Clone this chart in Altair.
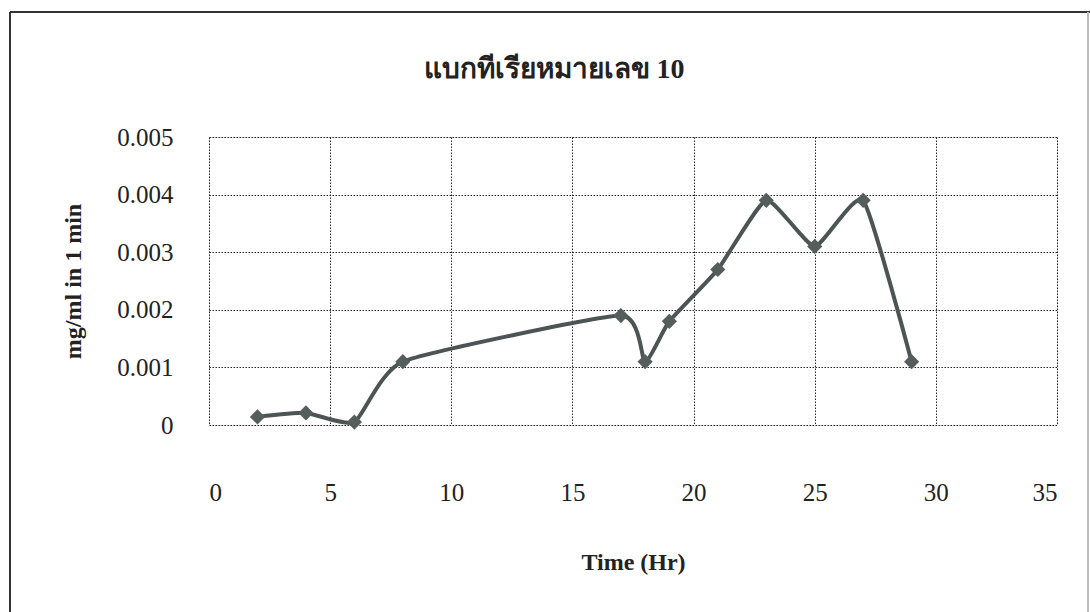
import altair as alt
import pandas as pd

# Sampling times (hours) and measured rate (mg/ml per minute)
hours = [2, 4, 6, 8, 17, 18, 19, 21, 23, 25, 27, 29]
rate = [0.00014, 0.00021, 0.00005, 0.0011, 0.0019, 0.0011,
        0.0018, 0.0027, 0.0039, 0.0031, 0.0039, 0.0011]

x_ticks = [0, 5, 10, 15, 20, 25, 30, 35]
y_ticks = [0, 0.001, 0.002, 0.003, 0.004, 0.005]

title_text = "แบกทีเรียหมายเลข 10"
x_title = "Time (Hr)"
y_title = "mg/ml in 1 min"

df = pd.DataFrame({"hours": hours, "rate": rate})

FONT = "Liberation Serif"
INK = "#222222"
SERIES = "#4d5454"

x_enc = alt.X(
    "hours:Q",
    scale=alt.Scale(domain=[0, 35], nice=False, zero=False),
    axis=alt.Axis(
        values=x_ticks, title=x_title, grid=True, ticks=False, domain=False,
        labelPadding=55, labelFontSize=25, labelFont=FONT, labelColor=INK,
        titleFont=FONT, titleFontSize=24, titleFontWeight="bold", titleColor=INK,
        titleBaseline="alphabetic", titleY=144,
        gridColor="#111111", gridDash=[1.5, 1.5], gridWidth=1, gridOpacity=0.9,
    ),
)
y_enc = alt.Y(
    "rate:Q",
    scale=alt.Scale(domain=[0, 0.005], nice=False),
    axis=alt.Axis(
        values=y_ticks, title=y_title, grid=True, ticks=False, domain=False,
        labelExpr="datum.value == 0 ? '0' : format(datum.value, '.3f')",
        labelPadding=36, labelFontSize=25, labelFont=FONT, labelColor=INK,
        titleFont=FONT, titleFontSize=24, titleFontWeight="bold", titleColor=INK,
        titleBaseline="alphabetic", titleX=-129, titleY=144, titleAngle=270,
        gridColor="#111111", gridDash=[1.5, 1.5], gridWidth=1, gridOpacity=0.9,
    ),
)

base = alt.Chart(df)

line = base.mark_line(
    interpolate="cardinal", tension=0.5, color=SERIES, strokeWidth=4
).encode(x=x_enc, y=y_enc)

points = base.mark_point(
    shape="diamond", filled=True, size=230, color="#565d5d", opacity=1
).encode(x="hours:Q", y="rate:Q")

# Chart heading, placed above the plot area
heading = alt.Chart(pd.DataFrame({"t": [title_text]})).mark_text(
    font=FONT, fontSize=28, fontWeight="bold", color=INK,
    align="center", baseline="alphabetic",
).encode(text="t:N", x=alt.value(345), y=alt.value(-59))

# Outer frame around the whole chart (left, top and a faint right edge)
frame_left = alt.Chart(df).mark_rule(color="#333333", strokeWidth=2).encode(
    x=alt.value(-199), y=alt.value(-125), y2=alt.value(475)
)
frame_top = alt.Chart(df).mark_rule(color="#333333", strokeWidth=2).encode(
    x=alt.value(-199), x2=alt.value(881), y=alt.value(-125)
)
frame_right = alt.Chart(df).mark_rule(color="#bbbbbb", strokeWidth=1).encode(
    x=alt.value(879), y=alt.value(-125), y2=alt.value(475)
)

chart = (
    alt.layer(frame_left, frame_top, frame_right, line, points, heading)
    .properties(
        width=848,
        height=288,
        autosize=alt.AutoSizeParams(type="none"),
        padding={"left": 209, "top": 137, "right": 33, "bottom": 187},
    )
    .configure_view(stroke="#111111", strokeDash=[1.5, 1.5], strokeWidth=1)
    .configure(background="white")
)

chart.save("out.html", embed_options={"renderer": "svg", "actions": False})
